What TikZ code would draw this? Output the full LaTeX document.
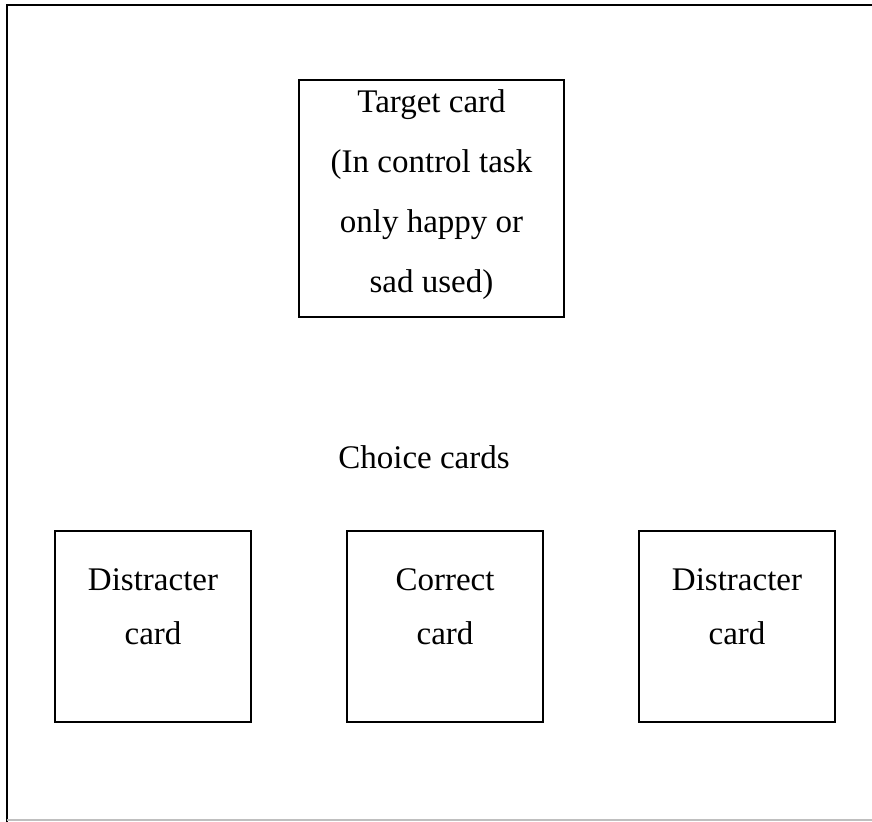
\documentclass[tikz,border=0pt]{standalone}
\usepackage{fontspec}
\setmainfont{Liberation Serif}
\usepackage{tikz}
\usetikzlibrary{positioning}

\begin{document}
\begin{tikzpicture}[
    x=0.5pt, y=-0.5pt,
    node distance=47pt,
    card/.style={rectangle, draw=black, line width=1pt, minimum width=98pt, minimum height=95.5pt, text depth=20pt, align=center, font=\fontsize{16.5}{27}\selectfont},
    caption/.style={font=\fontsize{16.5}{27}\selectfont}
]
    \useasboundingbox (0,0) rectangle (872,822);
    \draw[line width=1pt] (7,822) -- (7,5) -- (880,5);
    \draw[line width=0.8pt, black!25] (7,820) -- (880,820);

    \node (target) [card, minimum width=132.5pt, minimum height=118.5pt, text depth=7pt, font=\fontsize{16.5}{30}\selectfont] at (431.5,198.5) {Target card\\(In control task\\only happy or\\sad used)};

    \node (choice) [caption] at (424,457) {Choice cards};

    \node (distl) [card] at (153,626.5) {Distracter\\card};
    \node (correct) [card, right=of distl] {Correct\\card};
    \node (distr) [card, right=of correct] {Distracter\\card};
\end{tikzpicture}
\end{document}
